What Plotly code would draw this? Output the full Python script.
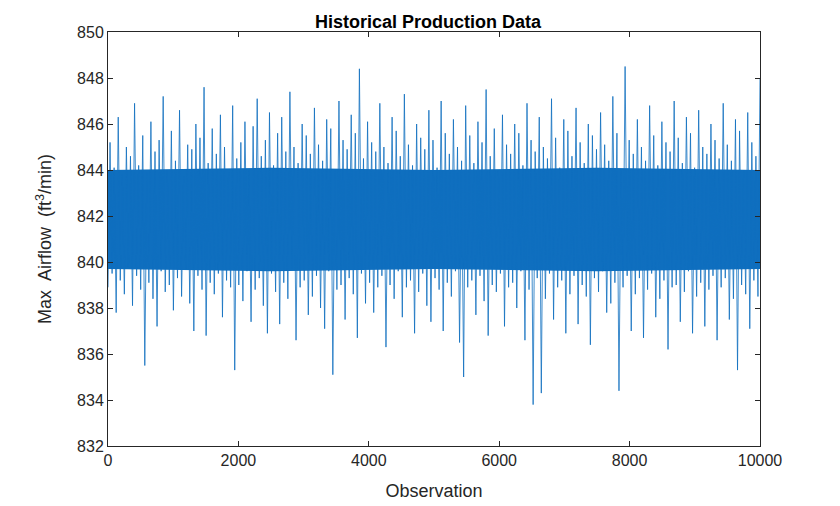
import plotly.graph_objects as go

highs = [845.2,844.1,846.3,843.8,845.0,844.6,846.9,844.2,845.5,843.9,
846.1,844.8,845.3,847.2,844.0,845.7,844.4,846.6,843.7,845.1,
844.9,846.0,845.4,847.6,844.3,845.8,844.7,846.4,845.0,843.9,
846.8,844.5,845.2,846.1,844.0,845.9,847.1,844.6,845.3,846.5,
844.2,845.6,846.3,844.8,847.4,845.0,844.3,846.0,845.5,844.7,
846.7,845.1,844.4,846.2,845.8,844.0,847.0,845.3,844.9,846.4,
845.6,848.4,844.5,846.1,845.2,844.8,846.9,845.0,844.3,846.3,
845.7,844.6,847.3,845.1,844.2,846.0,845.4,844.9,846.6,845.3,
844.1,847.0,845.6,844.7,846.2,845.0,844.4,846.8,845.5,844.3,
846.1,845.2,847.5,844.6,845.8,844.0,846.4,845.1,844.7,846.0,
845.6,844.2,846.9,845.3,844.8,846.3,845.0,844.5,847.1,845.4,
844.1,846.2,845.7,844.6,846.7,845.2,844.3,846.0,845.5,844.9,
846.5,845.1,844.4,847.2,845.6,844.0,848.5,845.3,844.7,846.2,
845.0,844.4,846.8,845.5,844.2,846.1,845.2,844.8,847.0,845.4,
844.3,846.3,845.6,844.1,846.6,845.0,844.7,846.0,845.3,844.5,
846.9,845.1,844.4,846.2,845.7,844.0,846.5,845.2,844.6,848.0]

lows = [838.9,839.5,837.8,839.2,838.6,839.8,838.1,839.4,838.8,835.5,
839.1,838.4,837.2,839.6,838.7,839.0,837.9,839.3,838.5,839.7,
838.2,837.0,839.4,838.8,836.8,839.1,838.6,839.5,837.6,839.2,
838.9,835.3,839.0,838.3,839.6,837.4,838.8,839.3,838.1,836.9,
839.5,838.7,837.3,839.1,838.4,839.7,836.6,838.9,839.2,837.7,
838.5,839.4,838.0,837.1,839.6,835.1,838.8,839.0,837.5,839.3,
838.6,836.7,839.5,838.2,839.1,837.8,838.9,839.4,836.3,839.0,
838.4,839.6,837.6,838.9,839.2,836.9,838.7,839.5,838.1,837.4,
839.3,838.8,837.0,839.1,838.5,839.6,836.5,835.0,838.9,839.2,
837.7,839.4,838.3,836.8,839.0,838.7,839.5,837.2,838.9,839.1,
838.0,839.6,836.6,838.8,833.8,839.3,834.3,838.4,839.5,837.5,
838.9,839.2,836.9,838.6,839.4,837.3,839.0,838.5,836.4,839.3,
838.7,839.6,837.8,838.2,839.1,834.4,838.9,839.4,837.0,838.6,
839.3,836.7,838.8,839.5,837.6,838.4,839.2,836.2,838.9,839.0,
837.4,838.7,839.6,836.9,838.5,839.1,837.2,838.8,839.4,836.6,
838.9,839.3,837.5,838.4,835.3,839.0,838.6,837.1,839.2,838.5]

# dense core of the trace
band_obs = [0, 2500, 5000, 7500, 10000]
band_low = [839.7, 839.6, 839.7, 839.6, 839.7]
band_high = [844.0, 844.1, 844.0, 844.1, 844.0]

values = []
for h, l in zip(highs, lows):
    values += [l, h]
n = len(values)
obs = [i * 10000 / (n - 1) for i in range(n)]

C = "#0F6FBF"
fig = go.Figure()
fig.add_trace(go.Scatter(x=band_obs, y=band_low, mode="lines", line=dict(width=0, color=C), hoverinfo="skip"))
fig.add_trace(go.Scatter(x=band_obs, y=band_high, mode="lines", line=dict(width=0, color=C),
                         fill="tonexty", fillcolor=C, hoverinfo="skip"))
fig.add_trace(go.Scatter(x=obs, y=values, mode="lines", line=dict(color=C, width=0.8)))
font = "Liberation Sans, Arial, sans-serif"
axis = dict(showgrid=False, zeroline=False, ticks="inside", ticklen=5, automargin=False,
            mirror="ticks", showline=True, linecolor="#262626", linewidth=1,
            tickcolor="#262626", tickfont=dict(size=16, color="#262626"), tickformat="d")
fig.update_layout(
    width=840, height=506, plot_bgcolor="white", paper_bgcolor="white",
    margin=dict(l=100, r=88, t=24, b=68), showlegend=False,
    font=dict(family=font, color="#262626"),
    title=dict(text="<b>Historical Production Data</b>", x=0.5, xanchor="center",
               y=0.985, yanchor="top", font=dict(size=18, color="black")),
    xaxis=dict(axis, range=[0, 10000], dtick=2000,
               title=dict(text="Observation", font=dict(size=18), standoff=16)),
    yaxis=dict(axis, range=[832, 850], dtick=2,
               title=dict(text="Max  Airflow  (ft<sup>3</sup>/min)", font=dict(size=18), standoff=20)),
)
fig.write_html("out.html")
